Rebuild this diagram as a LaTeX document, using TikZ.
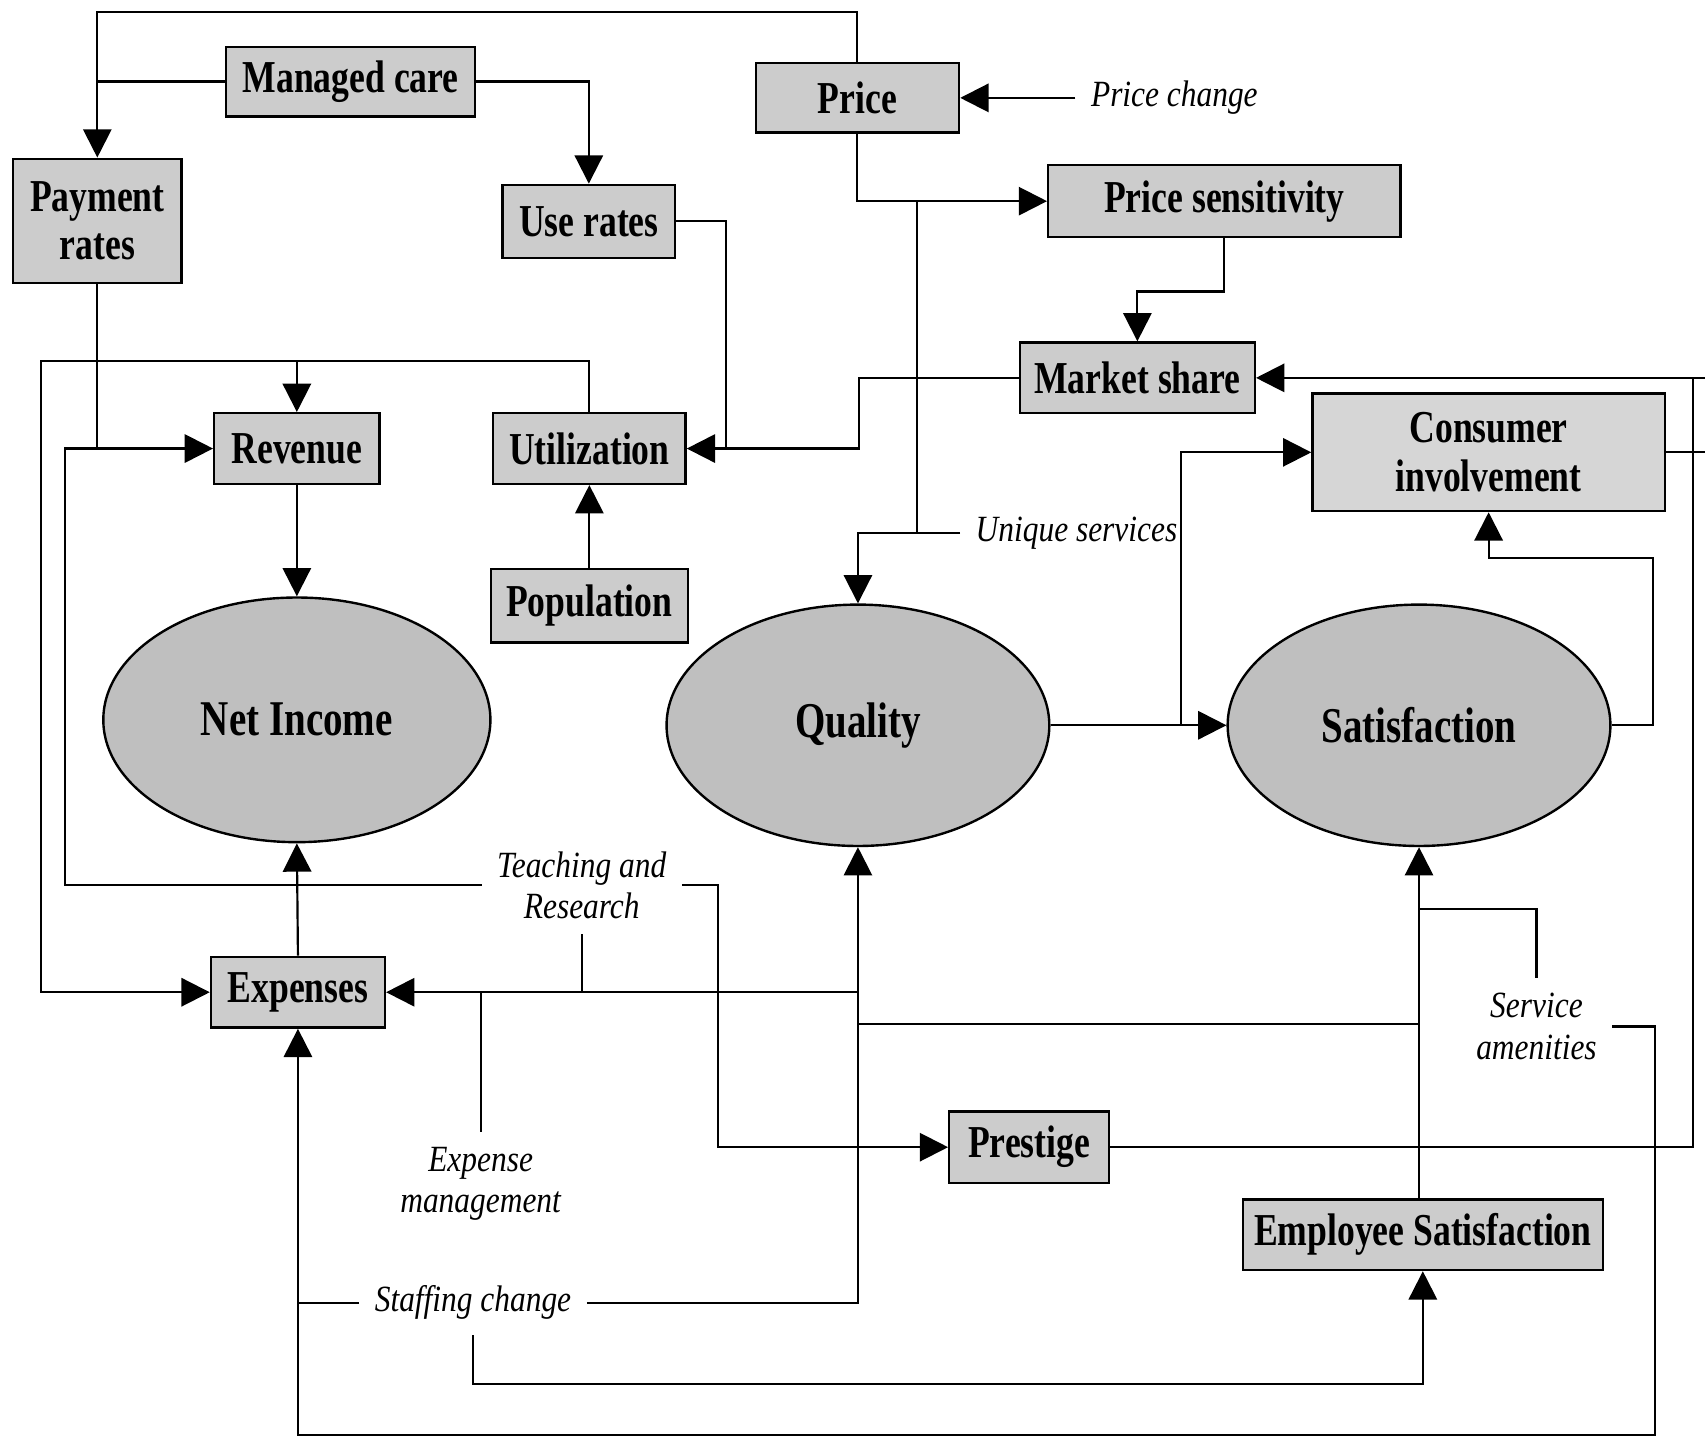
\documentclass[tikz,border=0pt]{standalone}
\usepackage{fontspec}
\setmainfont{Liberation Serif}
\newfontfamily\boxfont{Liberation Serif}[FakeStretch=0.78]
\newfontfamily\labfont{Liberation Serif}[FakeStretch=0.85]
\usetikzlibrary{arrows.meta,shapes.geometric}
\begin{document}
\begin{tikzpicture}[x=0.5pt,y=-0.5pt,
  box/.style={draw,line width=1.1pt,fill=gray!40,inner sep=0pt,align=center,
    font=\boxfont\bfseries\fontsize{21}{22.5}\selectfont},
  oval/.style={ellipse,draw,line width=1.1pt,fill=gray!50,inner sep=0pt,
    font=\boxfont\bfseries\fontsize{23}{25}\selectfont},
  lab/.style={inner sep=7pt,align=center,font=\labfont\itshape\fontsize{17}{19}\selectfont},
  con/.style={line width=1pt},
  arr/.style={con,-{Triangle[length=13pt,width=13pt]}}]
\fill[white] (0,0) rectangle (1568,1322);
\useasboundingbox (0,0) rectangle (1568,1322);

% nodes
\node[box,minimum width=114.5pt,minimum height=32pt] (mc) at (322.5,75) {Managed care};
\node[box,minimum width=93.5pt,minimum height=32pt] (price) at (788.5,90) {Price};
\node[lab] (pchg) at (1080,90) {Price change};
\node[box,minimum width=77.5pt,minimum height=57pt] (pay) at (89.5,203) {Payment\\rates};
\node[box,minimum width=79.5pt,minimum height=33.5pt] (use) at (541.5,203.5) {Use rates};
\node[box,minimum width=162pt,minimum height=33pt] (psens) at (1126,185) {Price sensitivity};
\node[box,minimum width=108pt,minimum height=32.5pt] (mkt) at (1046,347.5) {Market share};
\node[box,minimum width=76pt,minimum height=32.5pt] (rev) at (273,412.5) {Revenue};
\node[box,minimum width=88.5pt,minimum height=32.5pt] (util) at (542,412.5) {Utilization};
\node[box,fill=gray!32,minimum width=162pt,minimum height=54pt] (cons) at (1369,416) {Consumer\\involvement};
\node[box,minimum width=90.5pt,minimum height=34pt] (pop) at (542,557) {Population};
\node[oval,minimum width=178pt,minimum height=112.5pt] (net) at (273,662) {Net Income};
\node[oval,minimum width=176pt,minimum height=111pt] (qual) at (789,667) {Quality};
\node[oval,minimum width=176pt,minimum height=111pt] (sat) at (1305,667) {Satisfaction};
\node[lab] (teach) at (535,814) {Teaching and\\Research};
\node[lab] (uniq) at (990,490) {Unique services};
\node[box,minimum width=80pt,minimum height=32.5pt] (exp) at (274,912.5) {Expenses};
\node[lab] (serv) at (1413,944) {Service\\amenities};
\node[box,minimum width=73.5pt,minimum height=33pt] (prest) at (946.5,1055) {Prestige};
\node[lab] (expm) at (442,1089) {Expense\\management};
\node[box,minimum width=165.5pt,minimum height=32.5pt] (emp) at (1308.5,1135.5) {Employee Satisfaction};
\node[lab] (staff) at (435,1198) {Staffing change};

% helper coordinates
\coordinate (tl) at (89.5,11);
\coordinate (ju) at (668,412.5);
\coordinate (jm) at (790,412.5);
\coordinate (pu) at (843,185);
\coordinate (rx) at (1568,0);
\coordinate (vx) at (1557,0);
\coordinate (qs) at (1086,667);
\coordinate (sr) at (1520,513);
\coordinate (ut) at (38,332);
\coordinate (tx) at (60,0);
\coordinate (px) at (660,0);
\coordinate (qx) at (789,912.5);
\coordinate (hz) at (0,942);
\coordinate (sa) at (0,836);
\coordinate (se) at (1522,1320);
\coordinate (sb) at (0,1273);

% connectors
\draw[arr] (price.north) |- (tl) -- (pay.north);
\draw[con] (mc.west) -- (mc.west -| tl);
\draw[arr] (mc.east) -| (use.north);
\draw[con] (use.east) -| (ju);
\draw[arr] (mkt.west) -| (jm) -- (util.east);
\draw[arr] (price.south) |- (psens.west);
\draw[con] (pu) -- (pu |- uniq.west);
\draw[arr] (uniq.west) -| (qual.north);
\draw[arr] (psens.south) -- ++(0,49) -| (mkt.north);
\draw[arr] (mkt.east -| rx) -- (mkt.east);
\draw[con] (cons.east) -- (cons.east -| rx);
\draw[con] (prest.east) -| (mkt.east -| vx);
\draw[arr] (qual.east) -- (sat.west);
\draw[arr] (qs) |- (cons.west);
\draw[arr] (sat.east) -| (sr) -| (cons.south);
\draw[arr] (util.north) |- (ut) |- (exp.west);
\draw[arr] (rev.north |- ut) -- (rev.north);
\draw[arr] (pay.south) |- (rev.west);
\draw[con] (teach.west) -| (rev.west -| tx) -- (rev.west -| pay.south);
\draw[arr] (teach.east) -| (prest.west -| px) -- (prest.west);
\draw[con] (teach.south) |- (qx);
\draw[arr] (qx) -- (exp.east);
\draw[con] (expm.north) -- (expm.north |- qx);
\draw[arr] (staff.east) -| (qual.south);
\draw[con] (qual.south |- hz) -- (sat.south |- hz);
\draw[arr] (emp.north -| sat.south) -- (sat.south);
\draw[con] (sat.south |- sa) -| (serv.north);
\draw[arr] (serv.east) -| (se) -| (exp.south);
\draw[con] (staff.west) -- (staff.west -| exp.south);
\draw[arr] (staff.south) |- (emp.south |- sb) -- (emp.south);
\draw[arr] (exp.north) -- (net.south);
\draw[arr] (rev.south) -- (net.north);
\draw[arr] (pop.north) -- (util.south);
\draw[arr] (pchg.west) -- (price.east);
\end{tikzpicture}
\end{document}
